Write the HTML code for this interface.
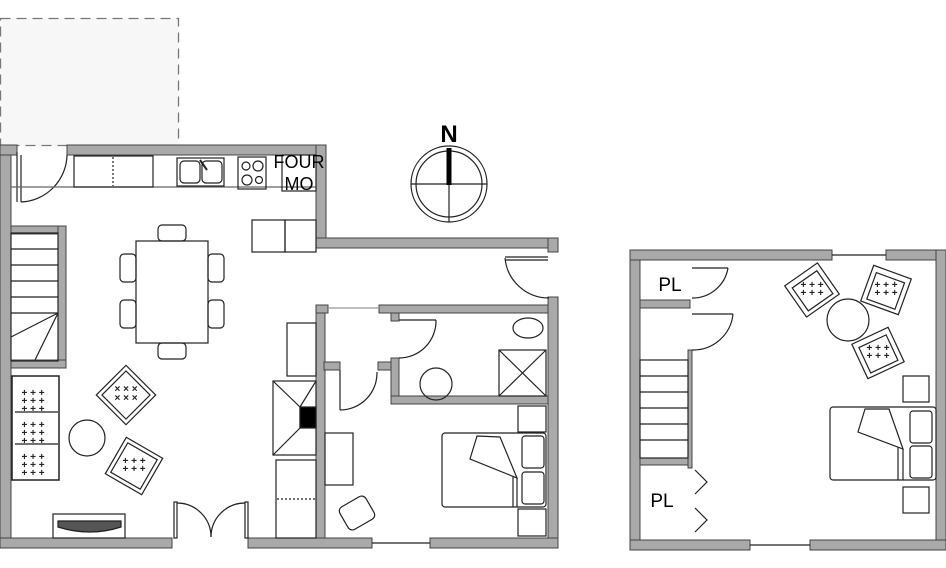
<!DOCTYPE html>
<html><head><meta charset="utf-8"><style>
html,body{margin:0;padding:0;background:#fff;width:946px;height:568px;overflow:hidden}
svg{display:block}
text{font-family:"Liberation Sans",sans-serif}
</style></head><body>
<svg width="946" height="568" viewBox="0 0 946 568" xmlns="http://www.w3.org/2000/svg">
<rect x="0.5" y="18.5" width="178" height="127" fill="#f7f7f7" stroke="#777" stroke-width="1.3" stroke-dasharray="10,6"/>

<g fill="#a9a9a9" stroke="#444" stroke-width="1">
<rect x="0" y="145" width="11" height="403"/>
<rect x="0" y="145" width="17" height="10"/>
<rect x="67" y="145" width="259" height="10"/>
<rect x="316" y="145" width="10" height="103"/>
<rect x="316" y="238" width="242" height="10"/>
<rect x="548" y="238" width="10" height="14"/>
<rect x="548" y="297" width="10" height="251"/>
<rect x="0" y="538" width="172" height="10"/>
<rect x="248" y="538" width="124" height="10"/>
<rect x="430" y="538" width="128" height="10"/>
<rect x="11" y="226" width="55" height="8"/>
<rect x="58" y="226" width="8" height="142"/>
<rect x="11" y="360" width="55" height="8"/>
<rect x="316" y="305" width="9" height="233"/>
<rect x="316" y="305" width="12" height="8"/>
<rect x="379" y="305" width="169" height="8"/>
<rect x="324" y="362" width="16" height="8"/>
<rect x="378" y="362" width="21" height="8"/>
<rect x="391" y="313" width="8" height="8"/>
<rect x="391" y="358" width="8" height="46"/>
<rect x="391" y="396" width="157" height="8"/>
<rect x="630" y="250" width="10" height="300"/>
<rect x="630" y="250" width="202" height="10"/>
<rect x="886" y="250" width="60" height="10"/>
<rect x="936" y="250" width="10" height="300"/>
<rect x="630" y="540" width="120" height="10"/>
<rect x="810" y="540" width="136" height="10"/>
<rect x="640" y="300" width="50" height="8"/>
<rect x="640" y="458" width="50" height="7"/>
<rect x="688" y="350" width="4" height="118"/>
</g>

<g fill="none" stroke="#222" stroke-width="1.2">
<line x1="17" y1="152" x2="17" y2="202"/>
<path d="M21 202 A48 48 0 0 0 67 155"/>
<line x1="21" y1="155" x2="21" y2="202"/>
<line x1="11" y1="187" x2="316" y2="187" stroke="#666"/>
<rect x="74" y="156" width="79" height="31"/>
<line x1="113" y1="157" x2="113" y2="186" stroke-dasharray="2,2"/>
<rect x="177" y="158" width="47" height="28"/>
<rect x="180" y="161" width="20" height="22" rx="4"/>
<rect x="202" y="161" width="20" height="22" rx="4"/>
<line x1="200" y1="160" x2="207" y2="170" stroke-width="2"/>
<rect x="238" y="157" width="28" height="32"/>
<circle cx="246" cy="166" r="4"/><circle cx="258" cy="166" r="5"/>
<circle cx="247" cy="180" r="5"/><circle cx="259" cy="180" r="3.5"/>
<rect x="282" y="155" width="34" height="36"/>
<rect x="252" y="220" width="33" height="32"/><rect x="285" y="220" width="31" height="32"/>
<rect x="136" y="241" width="72" height="102"/>
<rect x="158" y="225" width="28" height="16" rx="4"/>
<rect x="158" y="343" width="28" height="16" rx="4"/>
<rect x="120" y="254" width="16" height="28" rx="4"/>
<rect x="120" y="300" width="16" height="28" rx="4"/>
<rect x="208" y="254" width="16" height="28" rx="4"/>
<rect x="208" y="300" width="16" height="28" rx="4"/>
<rect x="11" y="233" width="47" height="128"/>
<line x1="11" y1="249" x2="58" y2="249"/><line x1="11" y1="265" x2="58" y2="265"/>
<line x1="11" y1="281" x2="58" y2="281"/><line x1="11" y1="297" x2="58" y2="297"/>
<line x1="11" y1="313" x2="58" y2="313"/>
<line x1="11" y1="337" x2="58" y2="313"/><line x1="35" y1="360" x2="58" y2="313"/>
<rect x="12" y="376" width="47" height="104" stroke-width="1.5"/>
<line x1="15" y1="412" x2="58" y2="412"/><line x1="15" y1="444" x2="58" y2="444"/>
<circle cx="87" cy="438" r="18"/>
<g transform="translate(126,395) rotate(45)"><rect x="-21" y="-21" width="42" height="42"/><rect x="-17" y="-17" width="34" height="34"/></g>
<g transform="translate(134,466) rotate(30)"><rect x="-21" y="-21" width="42" height="42"/><rect x="-17" y="-17" width="34" height="34"/></g>
<rect x="53" y="514" width="72" height="24"/>
<path d="M58 521 H121 V527 Q90 537 58 527 Z" fill="#555"/>
<rect x="174" y="502" width="3" height="36"/><rect x="245" y="502" width="3" height="36"/>
<path d="M177 503 A34 34 0 0 1 211 537"/><path d="M245 503 A34 34 0 0 0 211 537"/>
<line x1="505" y1="257" x2="548" y2="257"/><line x1="505" y1="260" x2="548" y2="260"/>
<path d="M505 258 A44 44 0 0 0 549 298"/>
<rect x="287" y="323" width="29" height="53"/>
<rect x="273" y="381" width="43" height="74"/>
<path d="M273 381 L300 407 M316 381 L300 407 M273 455 L300 428 M300 407 V428"/>
<rect x="300" y="407" width="16" height="21" fill="#000"/>
<rect x="276" y="460" width="40" height="78"/>
<line x1="277" y1="499" x2="315" y2="499" stroke-dasharray="2,2"/>
<line x1="328" y1="308" x2="379" y2="308" stroke="#999"/>
<line x1="340" y1="370" x2="340" y2="410"/><path d="M340 410 A37 37 0 0 0 377 372"/>
<line x1="399" y1="320" x2="436" y2="320"/><path d="M436 320 A37 37 0 0 1 399 358"/>
<ellipse cx="528" cy="328" rx="15" ry="10"/>
<rect x="499" y="350" width="47" height="46"/>
<path d="M499 350 L546 396 M546 350 L499 396"/>
<circle cx="436" cy="384" r="16"/>
<rect x="518" y="406" width="28" height="26"/>
<rect x="518" y="509" width="28" height="27"/>
<rect x="442" y="433" width="104" height="74" rx="3"/>
<rect x="522" y="436" width="22" height="32" rx="3"/>
<rect x="522" y="472" width="22" height="32" rx="3"/>
<path d="M477 436 L470 459 L517 478 L500 437 Z M517 478 V507 M513 477 V507"/>
<rect x="325" y="433" width="28" height="52"/>
<g transform="translate(357,513) rotate(-30)"><rect x="-15" y="-13" width="30" height="26" rx="5"/></g>
<line x1="372" y1="543" x2="430" y2="543"/>
<line x1="832" y1="255" x2="886" y2="255"/>
<line x1="750" y1="545" x2="810" y2="545"/>
<line x1="692" y1="268" x2="728" y2="268"/><path d="M728 268 A36 36 0 0 1 692 298"/>
<line x1="692" y1="314" x2="733" y2="314"/><path d="M733 314 A40 40 0 0 1 692 350"/>
<rect x="640" y="360" width="48" height="98"/>
<line x1="640" y1="376" x2="688" y2="376"/><line x1="640" y1="392" x2="688" y2="392"/>
<line x1="640" y1="408" x2="688" y2="408"/><line x1="640" y1="424" x2="688" y2="424"/>
<line x1="640" y1="440" x2="688" y2="440"/>
<path d="M695 470 L707 482 L695 494 M695 508 L707 520 L695 532"/>
<circle cx="848" cy="320" r="21"/>
<g transform="translate(812,290) rotate(-35)"><rect x="-20" y="-19" width="40" height="38"/><rect x="-15" y="-13" width="30" height="28"/></g>
<g transform="translate(886,290) rotate(20)"><rect x="-20" y="-19" width="40" height="38"/><rect x="-15" y="-13" width="30" height="28"/></g>
<g transform="translate(878,353) rotate(-25)"><rect x="-20" y="-19" width="40" height="38"/><rect x="-15" y="-13" width="30" height="28"/></g>
<rect x="903" y="376" width="26" height="26"/>
<rect x="903" y="487" width="26" height="26"/>
<rect x="830" y="407" width="106" height="73" rx="3"/>
<rect x="910" y="411" width="22" height="32" rx="3"/>
<rect x="910" y="446" width="22" height="32" rx="3"/>
<path d="M865 409 L858 432 L903 449 L889 409 Z M903 449 V480 M898 447 V480"/>
<circle cx="449" cy="184" r="38"/><circle cx="449" cy="184" r="33"/>
<line x1="411" y1="184" x2="487" y2="184"/><line x1="449" y1="148" x2="449" y2="222"/>
</g>
<line x1="449" y1="148" x2="449" y2="185" stroke="#000" stroke-width="5"/>
<g fill="#222" font-size="10" text-anchor="middle" font-weight="bold">
<text x="33" y="396">+ + +</text><text x="33" y="404">+ + +</text><text x="33" y="412">+ + +</text>
<text x="33" y="428">+ + +</text><text x="33" y="436">+ + +</text><text x="33" y="444">+ + +</text>
<text x="33" y="460">+ + +</text><text x="33" y="468">+ + +</text><text x="33" y="476">+ + +</text>
<text x="126" y="392">× × ×</text><text x="126" y="401">× × ×</text>
<text x="134" y="464">+ + +</text><text x="134" y="472">+ + +</text>
<text x="812" y="288">+ + +</text><text x="812" y="296">+ + +</text>
<text x="886" y="288">+ + +</text><text x="886" y="296">+ + +</text>
<text x="878" y="351">+ + +</text><text x="878" y="359">+ + +</text>
</g>
<text x="449" y="142" font-size="24" font-weight="bold" text-anchor="middle">N</text>
<text x="299" y="168" font-size="18" text-anchor="middle">FOUR</text>
<text x="299" y="190" font-size="18" text-anchor="middle">MO</text>
<text x="670" y="291" font-size="19" text-anchor="middle">PL</text>
<text x="662" y="507" font-size="19" text-anchor="middle">PL</text>
</svg>
</body></html>
